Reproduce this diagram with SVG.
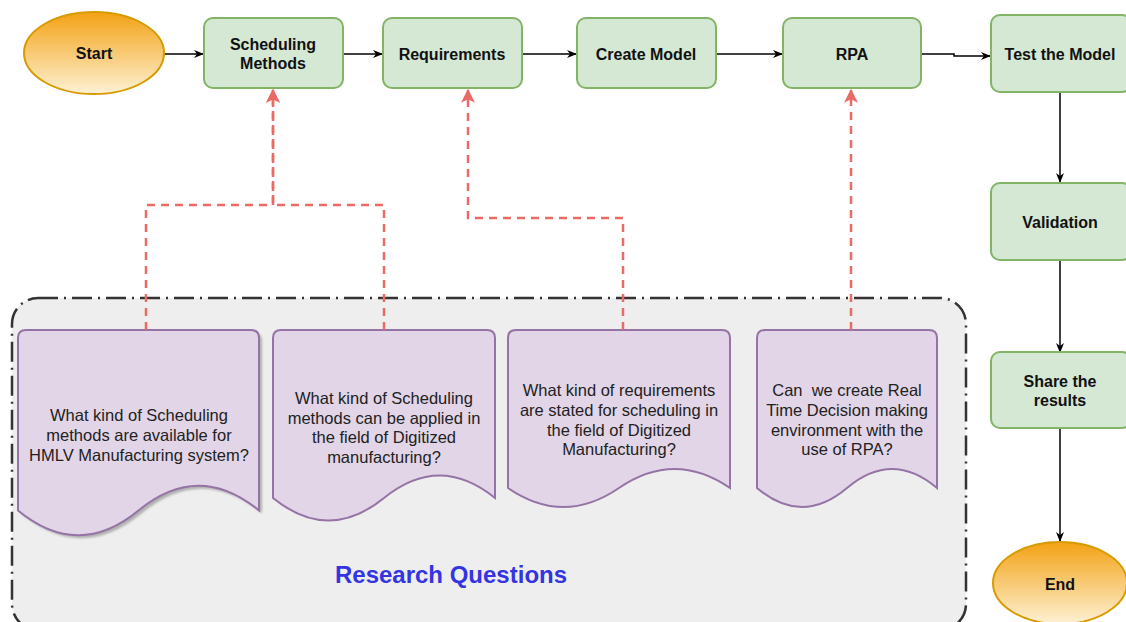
<svg xmlns="http://www.w3.org/2000/svg" width="1126" height="622" viewBox="0 0 1126 622">
<defs>
<linearGradient id="og" x1="0" y1="0" x2="0" y2="1">
<stop offset="0" stop-color="#f3a214"/>
<stop offset="1" stop-color="#fdf1d4"/>
</linearGradient>
<marker id="ab" viewBox="0 0 10 8" refX="9" refY="4" markerWidth="10" markerHeight="8" markerUnits="userSpaceOnUse" orient="auto">
<path d="M0,0 L10,4 L0,8 L3,4 Z" fill="#000"/>
</marker>
<marker id="ar" viewBox="0 0 12 12" refX="11" refY="6" markerWidth="14" markerHeight="14" markerUnits="userSpaceOnUse" orient="auto">
<path d="M0,0 L12,6 L0,12 L3,6 Z" fill="#ea6b66"/>
</marker>
<filter id="sh" x="-10%" y="-10%" width="130%" height="130%">
<feGaussianBlur stdDeviation="1"/>
</filter>
</defs>
<style>
.box{fill:#d5e8d4;stroke:#82b366;stroke-width:2}
.term{fill:url(#og);stroke:#d79b00;stroke-width:2}
.doc{fill:#e1d5e7;stroke:#9673a6;stroke-width:2}
.lbl{font-family:"Liberation Sans",Arial,sans-serif;font-weight:bold;font-size:16px;fill:#111;text-anchor:middle}
.q{font-family:"Liberation Sans",Arial,sans-serif;font-size:16.5px;fill:#222;text-anchor:middle}
.flow{fill:none;stroke:#000;stroke-width:1.5;marker-end:url(#ab)}
.rq{fill:none;stroke:#ea6b66;stroke-width:2.5;stroke-dasharray:8 6;marker-end:url(#ar)}
</style>
<rect width="1126" height="622" fill="#fff"/>

<g id="research-questions">
<rect x="12" y="298" width="954" height="332" rx="26" fill="#eeeeee" stroke="#333" stroke-width="2.5" stroke-dasharray="20 6 2 6"/>
<text x="451" y="583" font-family="'Liberation Sans',Arial,sans-serif" font-weight="bold" font-size="24" fill="#3434e2" text-anchor="middle">Research Questions</text>
</g>

<g id="q1">
<path d="M21,341 Q21,333 29,333 H254 Q262,333 262,341 V513.5 Q201.75,464 141.5,513.5 Q81.25,563 21,513.5 Z" fill="#888" opacity="0.6" filter="url(#sh)"/>
<path class="doc" d="M18,338 Q18,330 26,330 H251 Q259,330 259,338 V510.5 Q198.75,461 138.5,510.5 Q78.25,560 18,510.5 Z"/>
<text class="q" x="139" y="421">What kind of Scheduling</text>
<text class="q" x="139" y="441">methods are available for</text>
<text class="q" x="139" y="461">HMLV Manufacturing system?</text>
</g>

<g id="q2">
<path class="doc" d="M273,338 Q273,330 281,330 H487 Q495,330 495,338 V498 Q439.5,453 384,498 Q328.5,543 273,498 Z"/>
<text class="q" x="384" y="404">What kind of Scheduling</text>
<text class="q" x="384" y="424">methods can be applied in</text>
<text class="q" x="384" y="443">the field of Digitized</text>
<text class="q" x="384" y="463">manufacturing?</text>
</g>

<g id="q3">
<path class="doc" d="M508,338 Q508,330 516,330 H722 Q730,330 730,338 V488 Q674.5,450 619,488 Q563.5,526 508,488 Z"/>
<text class="q" x="619" y="396">What kind of requirements</text>
<text class="q" x="619" y="416">are stated for scheduling in</text>
<text class="q" x="619" y="436">the field of Digitized</text>
<text class="q" x="619" y="455">Manufacturing?</text>
</g>

<g id="q4">
<path class="doc" d="M757,338 Q757,330 765,330 H929 Q937,330 937,338 V488 Q892,450 847,488 Q802,526 757,488 Z"/>
<text class="q" x="847" y="396" xml:space="preserve">Can  we create Real</text>
<text class="q" x="847" y="416">Time Decision making</text>
<text class="q" x="847" y="436">environment with the</text>
<text class="q" x="847" y="455">use of RPA?</text>
</g>

<g id="connectors">
<path class="flow" d="M164,54 H203"/>
<path class="flow" d="M343,54 H382"/>
<path class="flow" d="M522,54 H576"/>
<path class="flow" d="M716,54 H782"/>
<path class="flow" d="M921,54 H954 V56 H990"/>
<path class="flow" d="M1060,92 V182"/>
<path class="flow" d="M1060,260 V352"/>
<path class="flow" d="M1060,428 V541"/>
<path class="rq" d="M146,330 V205 H273 V90"/>
<path class="rq" d="M384,330 V205 H273 V90"/>
<path class="rq" d="M623,330 V218 H468 V90"/>
<path class="rq" d="M851,330 V90"/>
</g>

<g id="start">
<ellipse class="term" cx="94" cy="53" rx="70" ry="41"/>
<text class="lbl" x="94" y="59">Start</text>
</g>
<g id="scheduling-methods">
<rect class="box" x="204" y="18" width="139" height="70" rx="9"/>
<text class="lbl" x="273" y="50">Scheduling</text>
<text class="lbl" x="273" y="69">Methods</text>
</g>
<g id="requirements">
<rect class="box" x="383" y="18" width="139" height="70" rx="9"/>
<text class="lbl" x="452" y="60">Requirements</text>
</g>
<g id="create-model">
<rect class="box" x="577" y="18" width="139" height="70" rx="9"/>
<text class="lbl" x="646" y="60">Create Model</text>
</g>
<g id="rpa">
<rect class="box" x="783" y="18" width="138" height="70" rx="9"/>
<text class="lbl" x="852" y="60">RPA</text>
</g>
<g id="test-model">
<rect class="box" x="991" y="15" width="140" height="77" rx="9"/>
<text class="lbl" x="1060" y="60">Test the Model</text>
</g>
<g id="validation">
<rect class="box" x="991" y="183" width="140" height="77" rx="9"/>
<text class="lbl" x="1060" y="228">Validation</text>
</g>
<g id="share-results">
<rect class="box" x="991" y="352" width="140" height="76" rx="9"/>
<text class="lbl" x="1060" y="387">Share the</text>
<text class="lbl" x="1060" y="406">results</text>
</g>
<g id="end">
<ellipse class="term" cx="1060" cy="583" rx="67" ry="41"/>
<text class="lbl" x="1060" y="590">End</text>
</g>
</svg>
